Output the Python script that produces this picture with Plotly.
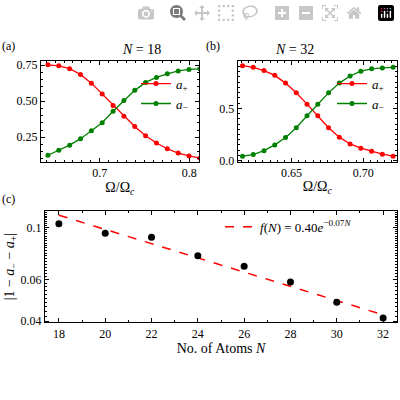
import plotly.graph_objects as go

# panel (a), N = 18
omega_a = [0.642 + i * 0.01214 for i in range(15)]
a_plus_18 = [0.752, 0.745, 0.725, 0.685, 0.625, 0.55, 0.47, 0.395, 0.325, 0.26, 0.21, 0.17, 0.14, 0.12, 0.105]
a_minus_18 = [0.125, 0.16, 0.195, 0.24, 0.295, 0.35, 0.43, 0.505, 0.575, 0.63, 0.665, 0.69, 0.71, 0.72, 0.725]

# panel (b), N = 32
omega_b = [0.6158 + i * 0.0075 for i in range(15)]
a_plus_32 = [0.907, 0.892, 0.861, 0.815, 0.741, 0.648, 0.54, 0.429, 0.315, 0.225, 0.16, 0.12, 0.09, 0.062, 0.043]
a_minus_32 = [0.043, 0.059, 0.096, 0.151, 0.222, 0.315, 0.429, 0.54, 0.648, 0.741, 0.809, 0.855, 0.877, 0.886, 0.892]

# panel (c)
atoms = [18, 20, 22, 24, 26, 28, 30, 32]
residual = [0.104, 0.0946, 0.091, 0.0759, 0.0685, 0.0588, 0.0482, 0.0413]
fit_n = [18, 32]
fit_y = [0.113, 0.0426]

RED = "#ff0000"
GREEN = "#008000"
FONT = "Liberation Serif"

fig = go.Figure()
mk = dict(size=5, symbol="circle")
fig.add_trace(go.Scatter(x=omega_a, y=a_plus_18, mode="lines+markers", line=dict(color=RED, width=1.3),
                         marker=mk, name="<i>a</i><sub>+</sub>", xaxis="x", yaxis="y", legend="legend"))
fig.add_trace(go.Scatter(x=omega_a, y=a_minus_18, mode="lines+markers", line=dict(color=GREEN, width=1.3),
                         marker=mk, name="<i>a</i><sub>−</sub>", xaxis="x", yaxis="y", legend="legend"))
fig.add_trace(go.Scatter(x=omega_b, y=a_plus_32, mode="lines+markers", line=dict(color=RED, width=1.3),
                         marker=mk, name="<i>a</i><sub>+</sub>", xaxis="x2", yaxis="y2", legend="legend2"))
fig.add_trace(go.Scatter(x=omega_b, y=a_minus_32, mode="lines+markers", line=dict(color=GREEN, width=1.3),
                         marker=mk, name="<i>a</i><sub>−</sub>", xaxis="x2", yaxis="y2", legend="legend2"))
fig.add_trace(go.Scatter(x=fit_n, y=fit_y, mode="lines", line=dict(color=RED, width=1.5, dash="dash"),
                         name="<i>f</i>(<i>N</i>) = 0.40<i>e</i><sup>−0.07<i>N</i></sup>",
                         xaxis="x3", yaxis="y3", legend="legend3"))
fig.add_trace(go.Scatter(x=atoms, y=residual, mode="markers", marker=dict(color="black", size=7),
                         showlegend=False, xaxis="x3", yaxis="y3"))

ax = dict(showline=True, linecolor="black", linewidth=1, mirror="ticks", ticks="inside", ticklen=4,
          tickcolor="black", showgrid=False, zeroline=False,
          minor=dict(ticks="inside", ticklen=2, tickcolor="black"), tickfont=dict(size=12))

fig.update_layout(
    width=400, height=400, margin=dict(l=0, r=0, t=0, b=0),
    paper_bgcolor="white", plot_bgcolor="white",
    font=dict(family=FONT, size=12, color="black"),
    xaxis=dict(ax, domain=[0.102, 0.4975], range=[0.634, 0.811], tickvals=[0.7, 0.8],
               title=dict(text="Ω/Ω<sub><i>c</i></sub>", standoff=2), anchor="y"),
    yaxis=dict(ax, domain=[0.5925, 0.85], range=[0.08, 0.78], tickvals=[0.25, 0.5, 0.75],
               ticktext=["0.25", "0.50", "0.75"], anchor="x"),
    xaxis2=dict(ax, domain=[0.594, 0.9925], range=[0.6124, 0.7235], tickvals=[0.65, 0.70],
                ticktext=["0.65", "0.70"], title=dict(text="Ω/Ω<sub><i>c</i></sub>", standoff=2), anchor="y2"),
    yaxis2=dict(ax, domain=[0.5925, 0.85], range=[-0.01, 0.954], tickvals=[0.0, 0.5],
                ticktext=["0.0", "0.5"], anchor="x2"),
    xaxis3=dict(ax, domain=[0.1125, 0.9925], range=[17.4, 32.6], tickvals=atoms,
                title=dict(text="No. of Atoms <i>N</i>", standoff=2), anchor="y3"),
    yaxis3=dict(ax, domain=[0.1825, 0.4675], type="log", range=[-1.403, -0.928],
                tickvals=[0.04, 0.06, 0.1], ticktext=["0.04", "0.06", "0.1"],
                title=dict(text="|1 − <i>a</i><sub>−</sub> − <i>a</i><sub>+</sub>|", standoff=2), anchor="x3"),
    legend=dict(x=0.34, y=0.83, xanchor="left", yanchor="top", bgcolor="rgba(0,0,0,0)", font=dict(size=13)),
    legend2=dict(x=0.83, y=0.83, xanchor="left", yanchor="top", bgcolor="rgba(0,0,0,0)", font=dict(size=13)),
    legend3=dict(x=0.55, y=0.465, xanchor="left", yanchor="top", bgcolor="rgba(0,0,0,0)", font=dict(size=13)),
    annotations=[
        dict(text="<i>N</i> = 18", x=0.30, y=0.855, xref="paper", yref="paper", showarrow=False,
             yanchor="bottom", font=dict(size=14)),
        dict(text="<i>N</i> = 32", x=0.79, y=0.855, xref="paper", yref="paper", showarrow=False,
             yanchor="bottom", font=dict(size=14)),
        dict(text="(a)", x=0.0, y=0.865, xref="paper", yref="paper", showarrow=False,
             xanchor="left", yanchor="bottom", font=dict(size=12)),
        dict(text="(b)", x=0.51, y=0.865, xref="paper", yref="paper", showarrow=False,
             xanchor="left", yanchor="bottom", font=dict(size=12)),
        dict(text="(c)", x=0.0, y=0.475, xref="paper", yref="paper", showarrow=False,
             xanchor="left", yanchor="bottom", font=dict(size=12)),
    ],
)

fig.write_html("out.html", post_script="document.body.style.margin='0';")
